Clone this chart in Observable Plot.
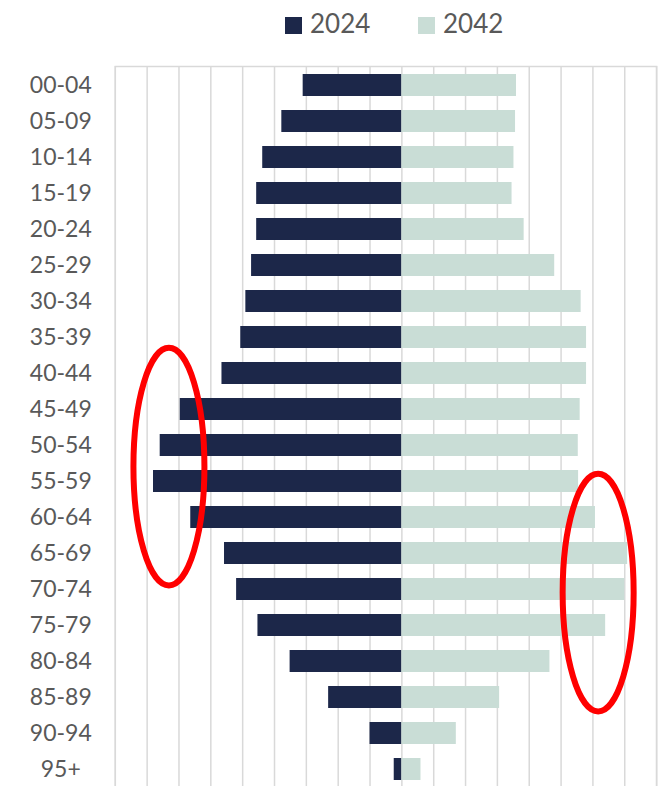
<!DOCTYPE html>
<html>
<head>
<meta charset="utf-8">
<script src="https://cdn.jsdelivr.net/npm/d3@7"></script>
<script src="https://cdn.jsdelivr.net/npm/@observablehq/plot@0.6"></script>
<style>
  body { margin: 0; background: #fff; font-family: Lato, "Open Sans", sans-serif; }
  #legend { position: relative; width: 661px; height: 46px; }
  .item { position: absolute; top: 0; height: 46px; display: flex; align-items: center;
          font-size: 26px; color: #595959; white-space: nowrap; }
  .sw { width: 17px; height: 17px; margin-right: 8px; position: relative; top: 2px; }
  #chart svg { display: block; }
</style>
</head>
<body>
<div id="legend"></div>
<div id="chart"></div>
<script>
// Age groups (categories, top to bottom)
const ageGroups = ["00-04","05-09","10-14","15-19","20-24","25-29","30-34","35-39","40-44","45-49",
                   "50-54","55-59","60-64","65-69","70-74","75-79","80-84","85-89","90-94","95+"];
// Population share per age group (in gridline units)
const values2024 = [3.10, 3.77, 4.37, 4.56, 4.56, 4.72, 4.90, 5.06, 5.65, 6.96,
                    7.59, 7.80, 6.63, 5.57, 5.19, 4.52, 3.51, 2.30, 1.00, 0.24];
const values2042 = [3.60, 3.57, 3.52, 3.46, 3.84, 4.80, 5.63, 5.80, 5.80, 5.60,
                    5.54, 5.55, 6.08, 7.09, 7.00, 6.40, 4.65, 3.07, 1.71, 0.60];
const seriesNames = ["2024", "2042"];
const seriesColors = ["#1c2749", "#c9ddd6"];
// Vertical gridline positions
const gridTicks = d3.range(-9, 9);
// Red highlight ellipses (in data units: x value, row index, radii)
const highlights = [
  { cx: -7.30, row: 10.6, rx: 1.115, ryRows: 3.3 },
  { cx:  6.18, row: 14.1, rx: 1.115, ryRows: 3.3 }
];

// Legend
const legend = d3.select("#legend");
const legendLeft = [285, 418];
seriesNames.forEach((name, i) => {
  const it = legend.append("div").attr("class", "item").style("left", legendLeft[i] + "px");
  it.append("div").attr("class", "sw").style("background", seriesColors[i]);
  it.append("span").text(name);
});

// Data table
const data = ageGroups.flatMap((age, i) => [
  { age, series: seriesNames[0], v: -values2024[i] },
  { age, series: seriesNames[1], v: values2042[i] }
]);

const plot = Plot.plot({
  width: 661,
  height: 740,
  marginTop: 20,
  marginBottom: -1,
  marginLeft: 114.8,
  marginRight: 4.9,
  style: { fontFamily: "Lato, 'Open Sans', sans-serif", fontSize: "23px", background: "#fff" },
  x: { domain: [-9, 8], axis: null },
  y: { domain: ageGroups, paddingInner: 0.4, paddingOuter: 0.2, axis: null, label: null },
  color: { domain: seriesNames, range: seriesColors },
  marks: [
    Plot.gridX(gridTicks, { stroke: "#d9d9d9", strokeOpacity: 1, strokeWidth: 1.5 }),
    Plot.frame({ stroke: "#d9d9d9", strokeWidth: 1.5 }),
    Plot.barX(data, { y: "age", x1: 0, x2: "v", fill: "series" }),
    Plot.axisY({ tickSize: 0, tickPadding: 54.5, textAnchor: "middle", fontSize: 23, color: "#595959", label: null })
  ]
});
document.getElementById("chart").append(plot);

// Overlay highlight ellipses positioned through the plot's own scales
const xs = plot.scale("x"), ys = plot.scale("y");
const y0 = ys.apply(ys.domain[0]);
const step = ys.apply(ys.domain[1]) - y0;
const bw = ys.bandwidth;
const svg = d3.select(plot);
highlights.forEach(h => {
  svg.append("ellipse")
    .attr("cx", xs.apply(h.cx))
    .attr("cy", y0 + bw / 2 + h.row * step)
    .attr("rx", xs.apply(h.cx + h.rx) - xs.apply(h.cx))
    .attr("ry", h.ryRows * step)
    .attr("fill", "none")
    .attr("stroke", "#ff0000")
    .attr("stroke-width", 6);
});
</script>
</body>
</html>
